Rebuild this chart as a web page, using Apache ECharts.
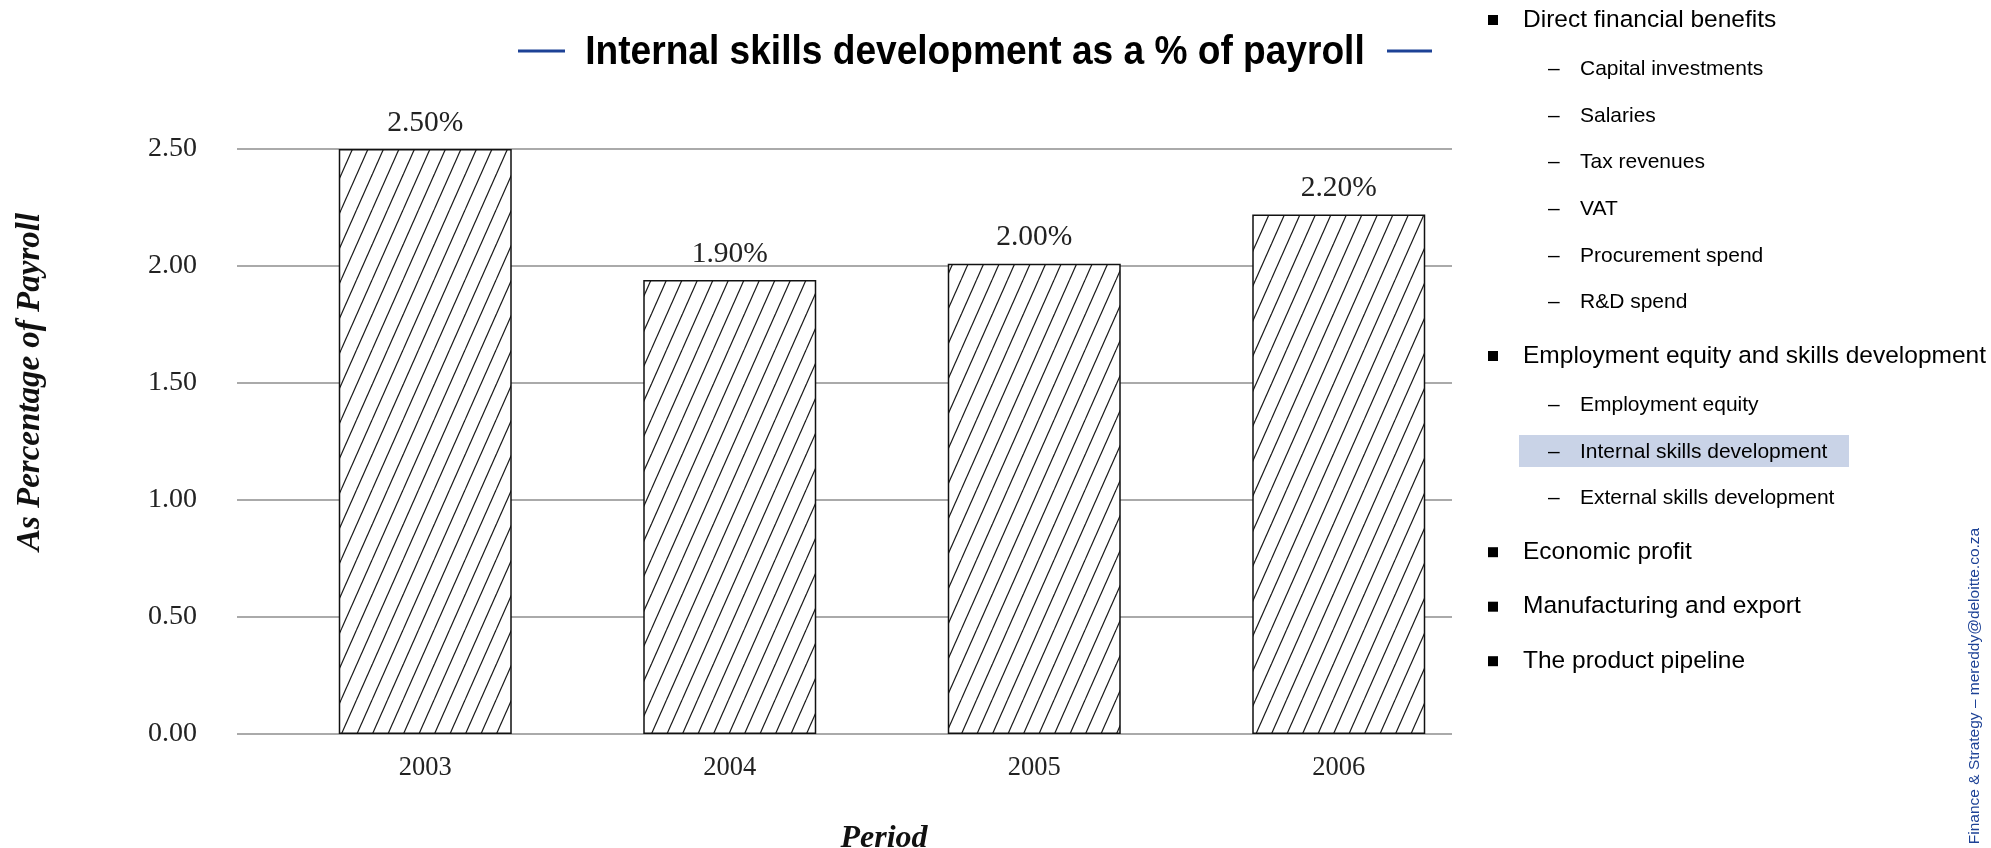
<!DOCTYPE html>
<html>
<head>
<meta charset="utf-8">
<script src="https://cdn.jsdelivr.net/npm/echarts@6/dist/echarts.min.js"></script>
<style>
html,body{margin:0;padding:0;background:#ffffff;}
#main{width:1991px;height:848px;}
</style>
</head>
<body>
<div id="main"></div>
<script>
// ---- data ----
const categories = ['2003', '2004', '2005', '2006'];
const values = [2.50, 1.94, 2.01, 2.22];
const valueLabels = ['2.50%', '1.90%', '2.00%', '2.20%'];
const yMin = 0, yMax = 2.5, yInterval = 0.5;
const titleText = 'Internal skills development as a % of payroll';
const yAxisTitle = 'As Percentage of Payroll';
const xAxisTitle = 'Period';
const listItems = [
  [0, 'Direct financial benefits'],
  [1, 'Capital investments'],
  [1, 'Salaries'],
  [1, 'Tax revenues'],
  [1, 'VAT'],
  [1, 'Procurement spend'],
  [1, 'R&D spend'],
  [0, 'Employment equity and skills development'],
  [1, 'Employment equity'],
  [1, 'Internal skills development'],
  [1, 'External skills development'],
  [0, 'Economic profit'],
  [0, 'Manufacturing and export'],
  [0, 'The product pipeline']
];
const highlightedItem = 'Internal skills development';
const footerText = 'Finance & Strategy \u2013 mereddy@deloitte.co.za';

// ---- hatch pattern ----
function makeHatch() {
  const c = document.createElement('canvas');
  c.width = 31; c.height = 70;
  const g = c.getContext('2d');
  g.fillStyle = '#ffffff';
  g.fillRect(0, 0, 31, 70);
  g.strokeStyle = '#1a1a1a';
  g.lineWidth = 1.2;
  for (let k = 0; k <= 4; k++) {
    const cx = k * 15.5;
    g.beginPath();
    g.moveTo(cx, 0);
    g.lineTo(cx - 31, 70);
    g.stroke();
  }
  return c;
}

const SERIF = '"Liberation Serif", "Times New Roman", serif';
const SANS = '"Liberation Sans", Arial, sans-serif';
const BLUE = '#1d4296';

// ---- right-hand list graphics ----
const graphics = [];
let y = 20;
for (let i = 0; i < listItems.length; i++) {
  const [lvl, txt] = listItems[i];
  if (i > 0) {
    const prev = listItems[i - 1][0];
    if (prev === 0 && lvl === 1) y += 49.5;
    else if (prev === 1 && lvl === 1) y += 46.6;
    else if (prev === 1 && lvl === 0) y += 53.5;
    else y += 54.5;
  }
  if (txt === highlightedItem) {
    graphics.push({ type: 'rect', shape: { x: 1519, y: y - 17, width: 330, height: 32 },
      style: { fill: '#c9d3e7' }, z: 1 });
  }
  if (lvl === 0) {
    graphics.push({ type: 'rect', shape: { x: 1488, y: y - 5, width: 10, height: 10 },
      style: { fill: '#000' }, z: 2 });
    graphics.push({ type: 'text', x: 1523, y: y, z: 2,
      style: { text: txt, font: '24.5px ' + SANS, fill: '#000',
        align: 'left', verticalAlign: 'middle', textAlign: 'left', textVerticalAlign: 'middle' } });
  } else {
    graphics.push({ type: 'text', x: 1548, y: y, z: 2,
      style: { text: '\u2013', font: '21px ' + SANS, fill: '#000',
        align: 'left', verticalAlign: 'middle', textAlign: 'left', textVerticalAlign: 'middle' } });
    graphics.push({ type: 'text', x: 1580, y: y, z: 2,
      style: { text: txt, font: '21px ' + SANS, fill: '#000',
        align: 'left', verticalAlign: 'middle', textAlign: 'left', textVerticalAlign: 'middle' } });
  }
}

// title with blue dashes (condensed bold sans)
graphics.push({ type: 'text', x: 975, y: 53, z: 3, scaleX: 0.905,
  style: { text: titleText, font: 'bold 41px ' + SANS, fill: '#000',
    align: 'center', verticalAlign: 'middle', textAlign: 'center', textVerticalAlign: 'middle' } });
graphics.push({ type: 'line', shape: { x1: 518, y1: 51, x2: 565, y2: 51 }, style: { stroke: BLUE, lineWidth: 3 } });
graphics.push({ type: 'line', shape: { x1: 1387, y1: 51, x2: 1432, y2: 51 }, style: { stroke: BLUE, lineWidth: 3 } });

// axis titles
graphics.push({ type: 'text', x: 30, y: 382, rotation: Math.PI / 2, z: 3,
  style: { text: yAxisTitle, font: 'italic bold 33px ' + SERIF, fill: '#111',
    align: 'center', verticalAlign: 'middle', textAlign: 'center', textVerticalAlign: 'middle' } });
graphics.push({ type: 'text', x: 884, y: 839, z: 3,
  style: { text: xAxisTitle, font: 'italic bold 32px ' + SERIF, fill: '#111',
    align: 'center', verticalAlign: 'middle', textAlign: 'center', textVerticalAlign: 'middle' } });

// footer
graphics.push({ type: 'text', x: 1975, y: 686, rotation: Math.PI / 2, z: 3,
  style: { text: footerText, font: '15.5px ' + SANS, fill: BLUE,
    align: 'center', verticalAlign: 'middle', textAlign: 'center', textVerticalAlign: 'middle' } });

const chart = echarts.init(document.getElementById('main'), null, { renderer: 'canvas' });
chart.setOption({
  backgroundColor: '#ffffff',
  animation: false,
  grid: [
    { left: 273, width: 1218, top: 149, height: 585, containLabel: false },
    { left: 237, width: 1215, top: 149, height: 585, containLabel: false }
  ],
  xAxis: [
    { type: 'category', gridIndex: 0, data: categories,
      axisLine: { show: false }, axisTick: { show: false }, splitLine: { show: false },
      axisLabel: { margin: 21, fontFamily: SERIF, fontSize: 26.5, color: '#222' } },
    { type: 'value', gridIndex: 1, min: 0, max: 1, show: false }
  ],
  yAxis: [
    { type: 'value', gridIndex: 0, min: yMin, max: yMax, interval: yInterval, show: false,
      splitLine: { show: false } },
    { type: 'value', gridIndex: 1, min: yMin, max: yMax, interval: yInterval,
      axisLine: { show: false }, axisTick: { show: false },
      splitLine: { show: true, lineStyle: { color: '#8e8e8e', width: 1.5 } },
      axisLabel: { margin: 40, fontFamily: SERIF, fontSize: 28, color: '#222',
        formatter: v => v.toFixed(2) } }
  ],
  series: [
    { type: 'bar', xAxisIndex: 0, yAxisIndex: 0, data: values, barWidth: 173,
      itemStyle: { color: { image: makeHatch(), repeat: 'repeat' }, borderColor: '#111', borderWidth: 1.5 },
      label: { show: true, position: 'top', distance: 11, fontFamily: SERIF, fontSize: 29.5, color: '#222',
        formatter: p => valueLabels[p.dataIndex] } }
  ],
  graphic: graphics
});
</script>
</body>
</html>
